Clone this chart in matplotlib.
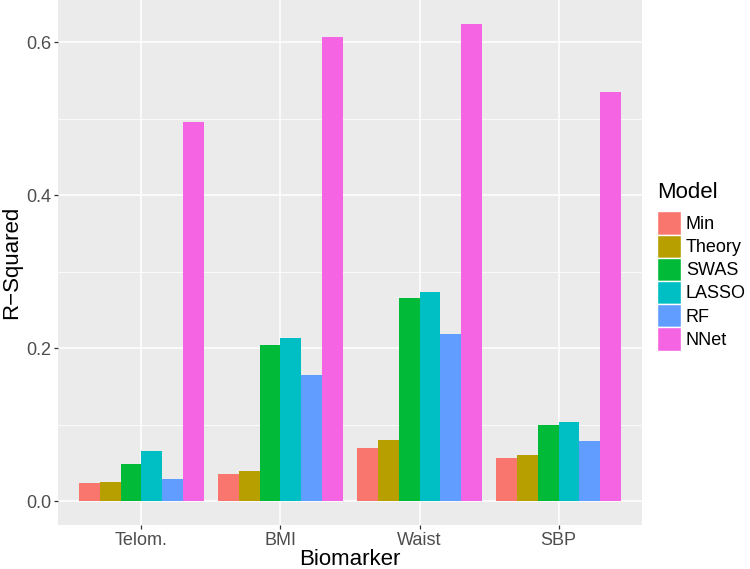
import matplotlib
matplotlib.use('Agg')
import matplotlib.pyplot as plt
import matplotlib.patches as mpatches
import numpy as np

plt.rcParams['font.family'] = ['Liberation Sans', 'DejaVu Sans']

biomarkers = ['Telom.', 'BMI', 'Waist', 'SBP']
models = ['Min', 'Theory', 'SWAS', 'LASSO', 'RF', 'NNet']
colors = ['#F8766D', '#B79F00', '#00BA38', '#00BFC4', '#619CFF', '#F564E3']

r2_min = [0.024, 0.035, 0.069, 0.056]
r2_theory = [0.025, 0.040, 0.080, 0.060]
r2_swas = [0.048, 0.204, 0.265, 0.099]
r2_lasso = [0.065, 0.213, 0.273, 0.104]
r2_rf = [0.029, 0.165, 0.218, 0.078]
r2_nnet = [0.495, 0.607, 0.623, 0.535]
values = [r2_min, r2_theory, r2_swas, r2_lasso, r2_rf, r2_nnet]

fig = plt.figure(figsize=(7.5, 5.69), dpi=100)
ax = fig.add_axes([58/750, 44/569, (642-58)/750, 525/569])
ax.set_facecolor('#EBEBEB')

x = np.arange(1, len(biomarkers) + 1)
w = 0.9 / len(models)
handles = []
for i, (m, c, v) in enumerate(zip(models, colors, values)):
    off = -0.45 + w * (i + 0.5)
    ax.bar(x + off, v, width=w, color=c, zorder=3, linewidth=0)
    handles.append(mpatches.Patch(facecolor=c, edgecolor='white', linewidth=1, label=m))

ax.set_xlim(0.4, 4.6)
ax.set_ylim(-0.0312, 0.655)
ax.set_xticks(x)
ax.set_xticklabels(biomarkers)
ax.set_yticks([0.0, 0.2, 0.4, 0.6])
ax.set_yticklabels(['0.0', '0.2', '0.4', '0.6'])
ax.set_yticks([0.1, 0.3, 0.5], minor=True)
ax.grid(which='major', color='white', linewidth=1.1, zorder=0)
ax.grid(which='minor', axis='y', color='white', linewidth=0.55, zorder=0)
ax.set_axisbelow(True)
for s in ax.spines.values():
    s.set_visible(False)
ax.tick_params(axis='both', which='major', length=3, width=0.9, color='#333333',
               labelsize=13, labelcolor='#4D4D4D', pad=2)
ax.tick_params(axis='both', which='minor', length=0)

ax.set_xlabel('Biomarker', fontsize=16, labelpad=0)
ax.set_ylabel('R\u2212Squared', fontsize=16, labelpad=3)

leg = fig.legend(handles=handles, title='Model', loc='upper left',
                 bbox_to_anchor=(657/750, 1 - 182/569), frameon=False,
                 fontsize=13, title_fontsize=16, alignment='left',
                 handlelength=1.35, handleheight=1.6, labelspacing=0.0,
                 handletextpad=0.25, borderpad=0, borderaxespad=0)
leg._legend_box.sep = 6

fig.savefig('out.png', dpi=100)
